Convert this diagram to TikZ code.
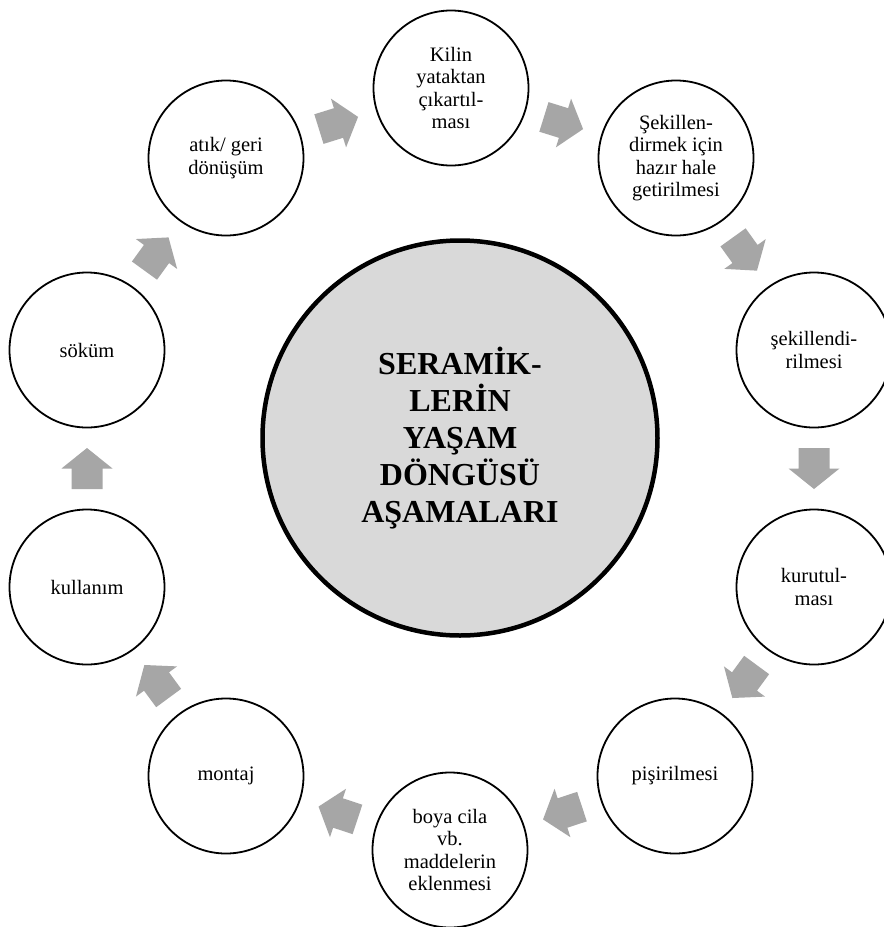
\documentclass[tikz,border=0pt]{standalone}
\usepackage{fontspec}
\setmainfont{Liberation Serif}
\usetikzlibrary{calc}
\definecolor{arrowgray}{RGB}{166,166,166}
\definecolor{hubgray}{RGB}{217,217,217}

% block arrow placed halfway between two stages, pointing from the first to the second
\newcommand\stagearrow[2]{%
  \path let \p1=($(#2)-(#1)$), \n1={atan2(\y1,\x1)} in
    pic[rotate=\n1] at ($(#1)!0.5!(#2)$) {blockarrow};%
}

\begin{document}
\begin{tikzpicture}[x=1pt,y=-1pt,
  stage/.style={circle, draw=black, line width=1.8pt, fill=white,
    minimum size=155pt, inner sep=0pt, align=center,
    font=\fontsize{20.5}{22.5}\selectfont},
  hub/.style={circle, draw=black, line width=4.5pt, fill=hubgray,
    minimum size=395pt, inner sep=0pt, align=center,
    font=\fontsize{32}{37}\selectfont\bfseries},
  blockarrow/.pic={\fill[arrowgray] (-20.5,-15.5) -- (0,-15.5) -- (0,-25.5)
      -- (20.5,0) -- (0,25.5) -- (0,15.5) -- (-20.5,15.5) -- cycle;}
]
\useasboundingbox (0,0) rectangle (884,927);
\fill[white] (0,0) rectangle (884,927);

% central hub
\node[hub] (hub) at (460,438) {SERAMİK-\\LERİN\\YAŞAM\\DÖNGÜSÜ\\AŞAMALARI};

% stages of the cycle, clockwise from the top
\node[stage] (kilin)  at (451,88)  {Kilin\\yataktan\\çıkartıl-\\ması};
\node[stage] (hazir)  at (676,158) {Şekillen-\\dirmek için\\hazır hale\\getirilmesi};
\node[stage] (sekil)  at (814,350) {şekillendi-\\rilmesi};
\node[stage] (kurut)  at (814,587) {kurutul-\\ması};
\node[stage] (pisir)  at (675,776) {pişirilmesi};
\node[stage] (boya)   at (450,850) {boya cila\\vb.\\maddelerin\\eklenmesi};
\node[stage] (montaj) at (226,776) {montaj};
\node[stage] (kullan) at (87,587)  {kullanım};
\node[stage] (sokum)  at (87,350)  {söküm};
\node[stage] (atik)   at (226,158) {atık/ geri\\dönüşüm};

% arrows between consecutive stages
\foreach \a/\b in {atik/kilin, kilin/hazir, hazir/sekil, sekil/kurut,
                   kurut/pisir, pisir/boya, boya/montaj, montaj/kullan,
                   kullan/sokum, sokum/atik}
  {\stagearrow{\a}{\b}}
\end{tikzpicture}
\end{document}
